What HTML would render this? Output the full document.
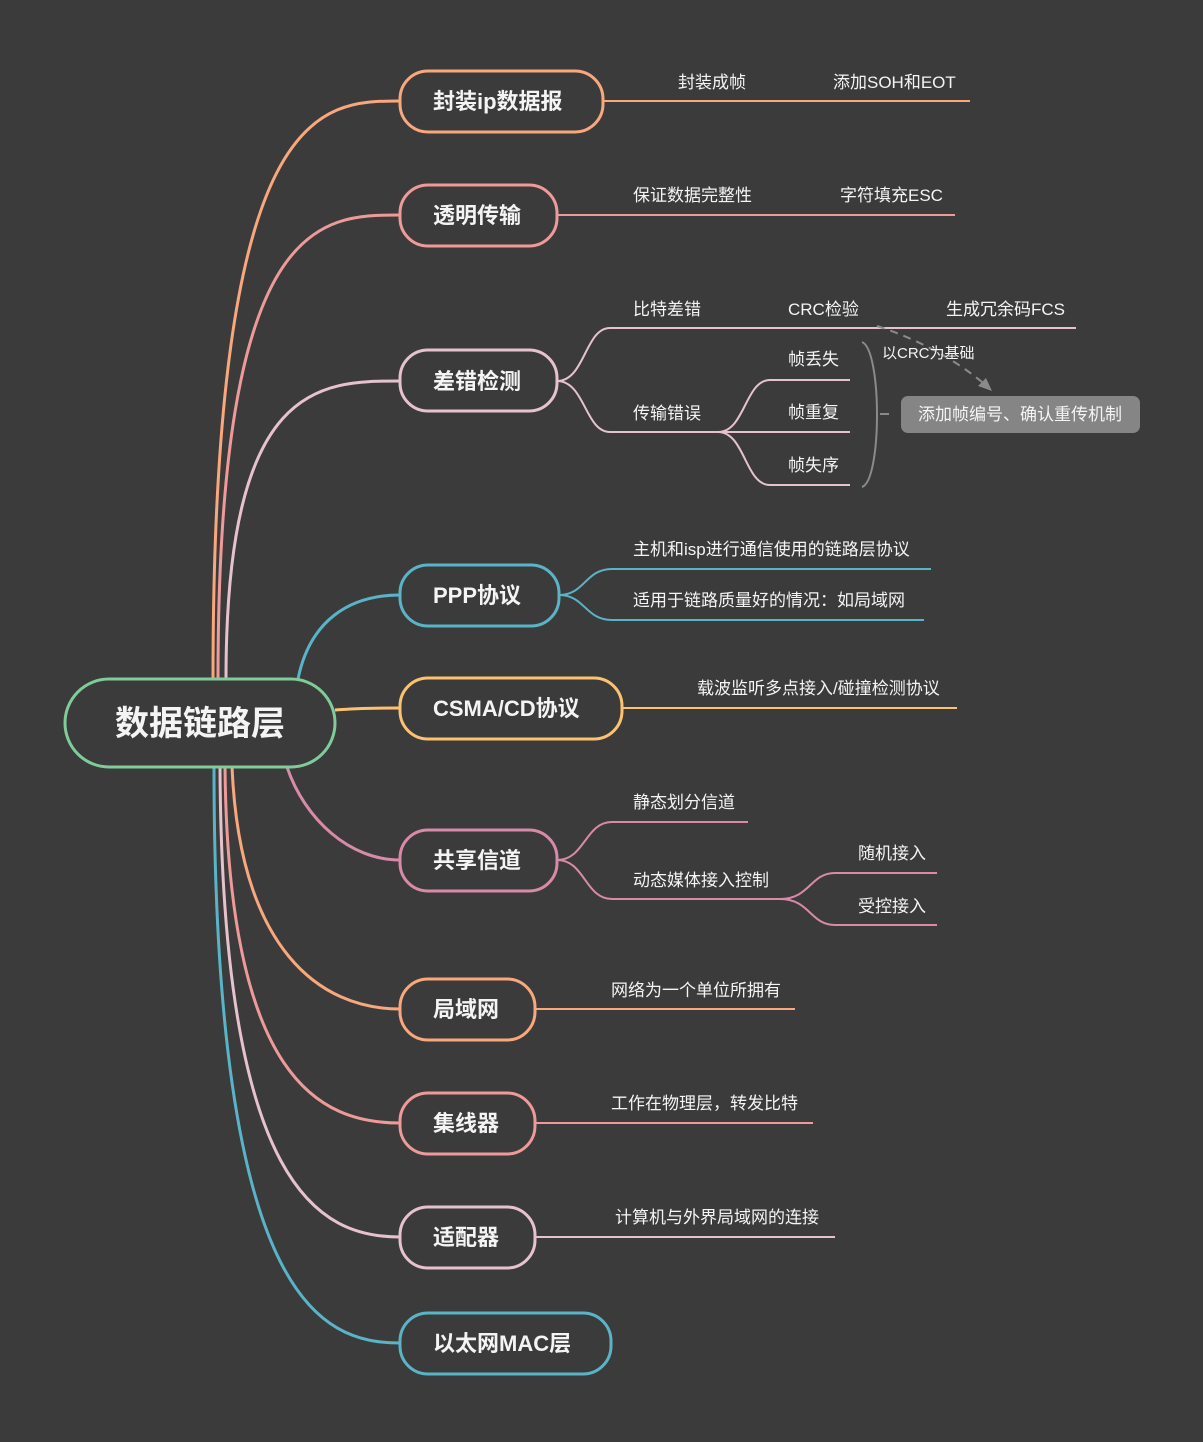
<!DOCTYPE html>
<html><head><meta charset="utf-8"><style>
html,body{margin:0;padding:0;background:#3b3b3b;}
svg text{font-family:"Liberation Sans","Noto Sans CJK SC",sans-serif;fill:#f4f4f4;}
.n{font-size:22px;font-weight:bold;}
.l{font-size:17px;}
</style></head><body>
<svg width="1203" height="1437" viewBox="0 0 1203 1437" xmlns="http://www.w3.org/2000/svg">
<rect width="1203" height="1437" fill="#3b3b3b"/>
<g fill="none" stroke-width="3">
<!-- root connectors -->
<path d="M213,679 C213,101 320,101 400,101" stroke="#f9a77c"/>
<path d="M218,679 C218,215 320,215 400,215" stroke="#ef9a9a"/>
<path d="M226,679 C226,381 320,381 400,381" stroke="#e6c3cc"/>
<path d="M298,679 C310,620 350,595 400,595" stroke="#5ab4c8"/>
<path d="M335,710 C360,708 380,708 400,708" stroke="#fcc26f"/>
<path d="M287,767 C305,820 350,860 400,860" stroke="#d98aa8"/>
<path d="M232,767 C240,950 320,1009 400,1009" stroke="#f9a77c"/>
<path d="M225,767 C228,1080 320,1123 400,1123" stroke="#ef9a9a"/>
<path d="M220,767 C222,1190 320,1237 400,1237" stroke="#e6c3cc"/>
<path d="M214,767 C214,1300 320,1343 400,1343" stroke="#5ab4c8"/>
</g>
<g fill="none" stroke-width="2">
<path d="M603,101 H970" stroke="#f9a77c"/>
<path d="M557,215 H955" stroke="#ef9a9a"/>
<g stroke="#e6c3cc">
<path d="M557,381 C585,381 585,328 610,328 H1076"/>
<path d="M557,381 C585,381 585,432 610,432 H720"/>
<path d="M718,432 C745,432 745,380 770,380 H850"/>
<path d="M718,432 H850"/>
<path d="M718,432 C745,432 745,485 770,485 H850"/>
</g>
<g stroke="#5ab4c8">
<path d="M559,595 C585,595 585,569 612,569 H931"/>
<path d="M559,595 C585,595 585,620 612,620 H924"/>
</g>
<path d="M622,708 H957" stroke="#fcc26f"/>
<g stroke="#d98aa8">
<path d="M557,860 C585,860 585,822 612,822 H748"/>
<path d="M557,860 C585,860 585,899 612,899 H785"/>
<path d="M780,899 C810,899 810,873 835,873 H937"/>
<path d="M780,899 C810,899 810,925 835,925 H937"/>
</g>
<path d="M535,1009 H795" stroke="#f9a77c"/>
<path d="M535,1123 H813" stroke="#ef9a9a"/>
<path d="M535,1237 H835" stroke="#e6c3cc"/>
<path d="M862,342 C882,350 882,480 862,487" stroke="#8a8a8a"/>
<path d="M880,414 H889" stroke="#8a8a8a"/>
<path d="M877,326 C920,340 955,360 982,382" stroke="#8a8a8a" stroke-dasharray="8,6"/>
</g>
<polygon points="992,391 978,386 986,378" fill="#8a8a8a"/>
<rect x="901" y="396" width="239" height="37" rx="7" fill="#858585"/>
<text x="1020" y="420" class="l" text-anchor="middle">添加帧编号、确认重传机制</text>
<g stroke-width="3" fill="#3b3b3b">
<rect x="65" y="679" width="270" height="88" rx="44" stroke="#7fcb9a"/>
<rect x="400" y="71" width="203" height="61" rx="28" stroke="#f9a77c"/>
<rect x="400" y="185" width="157" height="61" rx="28" stroke="#ef9a9a"/>
<rect x="400" y="350" width="157" height="61" rx="28" stroke="#e6c3cc"/>
<rect x="400" y="565" width="159" height="61" rx="28" stroke="#5ab4c8"/>
<rect x="400" y="678" width="222" height="61" rx="28" stroke="#fcc26f"/>
<rect x="400" y="830" width="157" height="61" rx="28" stroke="#d98aa8"/>
<rect x="400" y="979" width="135" height="61" rx="28" stroke="#f9a77c"/>
<rect x="400" y="1093" width="135" height="61" rx="28" stroke="#ef9a9a"/>
<rect x="400" y="1207" width="135" height="61" rx="28" stroke="#e6c3cc"/>
<rect x="400" y="1313" width="211" height="61" rx="28" stroke="#5ab4c8"/>
</g>
<text x="200" y="735" text-anchor="middle" style="font-size:34px;font-weight:bold">数据链路层</text>
<text x="433" y="109" class="n">封装ip数据报</text>
<text x="433" y="223" class="n">透明传输</text>
<text x="433" y="389" class="n">差错检测</text>
<text x="433" y="603" class="n">PPP协议</text>
<text x="433" y="716" class="n">CSMA/CD协议</text>
<text x="433" y="868" class="n">共享信道</text>
<text x="433" y="1017" class="n">局域网</text>
<text x="433" y="1131" class="n">集线器</text>
<text x="433" y="1245" class="n">适配器</text>
<text x="433" y="1351" class="n">以太网MAC层</text>
<g class="l">
<text x="678" y="88" class="l">封装成帧</text>
<text x="833" y="88" class="l">添加SOH和EOT</text>
<text x="633" y="201" class="l">保证数据完整性</text>
<text x="840" y="201" class="l">字符填充ESC</text>
<text x="633" y="315" class="l">比特差错</text>
<text x="788" y="315" class="l">CRC检验</text>
<text x="946" y="315" class="l">生成冗余码FCS</text>
<text x="633" y="419" class="l">传输错误</text>
<text x="788" y="365" class="l">帧丢失</text>
<text x="788" y="418" class="l">帧重复</text>
<text x="788" y="471" class="l">帧失序</text>
<text x="882" y="358" style="font-size:15px">以CRC为基础</text>
<text x="633" y="555" class="l">主机和isp进行通信使用的链路层协议</text>
<text x="633" y="606" class="l">适用于链路质量好的情况：如局域网</text>
<text x="697" y="694" class="l">载波监听多点接入/碰撞检测协议</text>
<text x="633" y="808" class="l">静态划分信道</text>
<text x="633" y="886" class="l">动态媒体接入控制</text>
<text x="858" y="859" class="l">随机接入</text>
<text x="858" y="912" class="l">受控接入</text>
<text x="611" y="996" class="l">网络为一个单位所拥有</text>
<text x="611" y="1109" class="l">工作在物理层，转发比特</text>
<text x="615" y="1223" class="l">计算机与外界局域网的连接</text>
</g>
</svg>
</body></html>
